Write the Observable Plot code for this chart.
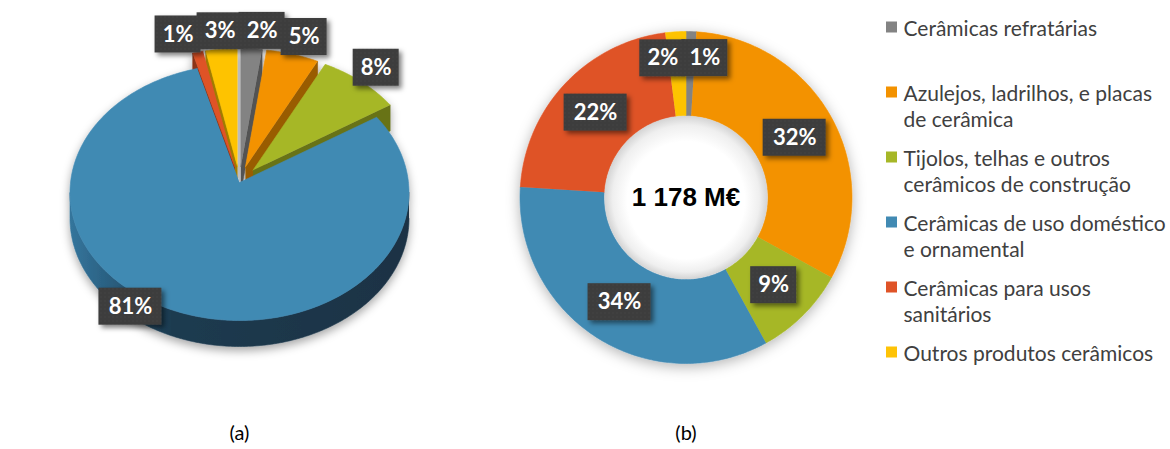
<!DOCTYPE html>
<html><head><meta charset="utf-8">
<script src="https://cdn.jsdelivr.net/npm/d3@7"></script>
<script src="https://cdn.jsdelivr.net/npm/@observablehq/plot@0.6"></script>
<style>body{margin:0;background:#fff}</style>
</head><body><div id="chart"></div>
<script>
// ---------- data ----------
const categories = [
  "Cerâmicas refratárias",
  "Azulejos, ladrilhos, e placas de cerâmica",
  "Tijolos, telhas e outros cerâmicos de construção",
  "Cerâmicas de uso doméstico e ornamental",
  "Cerâmicas para usos sanitários",
  "Outros produtos cerâmicos"
];
const legendLabels = [
  "Cerâmicas refratárias",
  "Azulejos, ladrilhos, e placas\nde cerâmica",
  "Tijolos, telhas e outros\ncerâmicos de construção",
  "Cerâmicas de uso doméstico\ne ornamental",
  "Cerâmicas para usos\nsanitários",
  "Outros produtos cerâmicos"
];
const sharesA = [2, 5, 8, 81, 1, 3];
const sharesB = [1, 32, 9, 34, 22, 2];
const totalB = "1 178 M€";
const panelLabels = ["(a)", "(b)"];
const palette = ["#838383", "#F39200", "#A6B727", "#418AB3", "#DF5327", "#FEC306"];

// ---------- layout ----------
const W = 1170, H = 449;
const A = {cx: 239, cy: 192, rx: 169.5, ry: 128, apexDy: -10, depth: 26, explode: 0.125};
const B = {cx: 685.5, cy: 197, R: 166, r: 82};
const legend = {x: 886, sq: 11, y0: 27, step: 65, textX: 903, font: 21, lh: 26};
const panelY = 433;

function angles(shares) {
  const tot = d3.sum(shares); let acc = 0;
  return shares.map((v, i) => {
    const a0 = acc / tot * 2 * Math.PI; acc += v;
    const a1 = acc / tot * 2 * Math.PI;
    return {i, v, a0, a1, mid: (a0 + a1) / 2};
  });
}
function arcSteps(a0, a1) { const n = Math.max(2, Math.ceil((a1 - a0) / (Math.PI / 180))); return d3.range(n + 1).map(k => a0 + (a1 - a0) * k / n); }

// ---------- pie (a) polygons ----------
const slicesA = angles(sharesA);
const maxA = d3.max(sharesA);
const polysA = [];
const offA = s => s.v === maxA ? [0, 0] : [A.explode * A.rx * Math.sin(s.mid), -A.explode * A.ry * Math.cos(s.mid)];
const rimA = (t, o, dz = 0) => [A.cx + o[0] + A.rx * Math.sin(t), A.cy + o[1] - A.ry * Math.cos(t) + dz];
const apexA = (o, dz = 0) => [A.cx + o[0], A.cy + A.apexDy + o[1] + dz];
const order = [...slicesA].sort((p, q) => Math.cos(q.mid) - Math.cos(p.mid));
for (const s of order) {
  const o = offA(s), c = palette[s.i], dark = d3.color(c).darker(1.3).formatHex();
  if (s.a1 > 0 && s.a1 < Math.PI) polysA.push({fill: dark, pts: [apexA(o), rimA(s.a1, o), rimA(s.a1, o, A.depth), apexA(o, A.depth)]});
  if (s.a0 > Math.PI && s.a0 < 2 * Math.PI) polysA.push({fill: dark, pts: [apexA(o), rimA(s.a0, o), rimA(s.a0, o, A.depth), apexA(o, A.depth)]});
  const lo = Math.max(s.a0, Math.PI / 2), hi = Math.min(s.a1, 3 * Math.PI / 2);
  if (hi > lo) {
    const st = arcSteps(lo, hi);
    polysA.push({fill: s.v === maxA ? "url(#blueSide)" : dark, pts: [...st.map(t => rimA(t, o)), ...st.reverse().map(t => rimA(t, o, A.depth))]});
  }
  polysA.push({fill: c, pts: [apexA(o), ...arcSteps(s.a0, s.a1).map(t => rimA(t, o))]});
}
const rowsA = polysA.flatMap((p, k) => p.pts.map(([x, y]) => ({id: k, x, y, fill: p.fill})));

// ---------- donut (b) polygons ----------
const slicesB = angles(sharesB);
const rowsB = slicesB.flatMap(s => {
  const st = arcSteps(s.a0, s.a1);
  const outer = st.map(t => [B.cx + B.R * Math.sin(t), B.cy - B.R * Math.cos(t)]);
  const inner = [...st].reverse().map(t => [B.cx + B.r * Math.sin(t), B.cy - B.r * Math.cos(t)]);
  return [...outer, ...inner].map(([x, y]) => ({id: s.i, x, y, fill: palette[s.i]}));
});

// ---------- labels ----------
const halfW = t => 6 + 8.5 * t.length;
const boxH = 37;
function dodge(labels) {
  for (let it = 0; it < 200; it++) {
    let moved = false;
    for (let a = 0; a < labels.length; a++) for (let b = a + 1; b < labels.length; b++) {
      const p = labels[a], q = labels[b];
      const gap = halfW(p.text) + halfW(q.text) - 4;
      if (Math.abs(p.y - q.y) < boxH - 4 && Math.abs(p.x - q.x) < gap) {
        const push = (gap - Math.abs(p.x - q.x)) / 2 + 0.01, sgn = p.x <= q.x ? -1 : 1;
        p.x += sgn * push; q.x -= sgn * push; moved = true;
      }
    }
    if (!moved) break;
  }
  return labels;
}
const labelsA = dodge(slicesA.map(s => {
  const text = `${s.v}%`;
  if (s.v === maxA) {
    const t = s.mid + 16 * Math.PI / 180;
    return {text, x: A.cx + 1.1 * A.rx * Math.sin(t), y: A.cy - 1.1 * A.ry * Math.cos(t)};
  }
  const o = offA(s);
  return {text, x: A.cx + o[0] + 1.14 * A.rx * Math.sin(s.mid), y: A.cy + o[1] - 1.14 * A.ry * Math.cos(s.mid)};
}));
const labelsB = dodge(slicesB.map(s => {
  const rr = s.v < 3 ? 0.84 * B.R : (B.R + B.r) / 2;
  return {text: `${s.v}%`, x: B.cx + rr * Math.sin(s.mid), y: B.cy - rr * Math.cos(s.mid)};
}));
const labels = [...labelsA, ...labelsB];

const legendRows = categories.map((c, i) => ({
  cat: c, label: legendLabels[i], color: palette[i],
  y: legend.y0 + legend.step * i,
  lines: legendLabels[i].split("\n").length
}));

const chart = Plot.plot({
  width: W, height: H, margin: 0,
  x: {domain: [0, W], range: [0, W], axis: null},
  y: {domain: [0, H], range: [0, H], axis: null},
  color: {type: "identity"},
  style: {background: "#fff", fontFamily: "Lato"},
  marks: [
    Plot.line(rowsA, {x: "x", y: "y", z: "id", fill: "fill", stroke: "fill", strokeWidth: 0.6, ariaDescription: "pieA"}),
    Plot.line(rowsB, {x: "x", y: "y", z: "id", fill: "fill", stroke: "fill", strokeWidth: 0.6, ariaDescription: "donut"}),
    Plot.dot([B], {x: "cx", y: "cy", r: B.r - 0.5, fill: "url(#holeGrad)", stroke: "none"}),
    Plot.text([totalB], {x: () => B.cx, y: () => B.cy, text: d => d, fontSize: 26, fontWeight: "bold", fontFamily: "Liberation Sans", fill: "#000"}),
    Plot.rect(labels, {x1: d => d.x - halfW(d.text), x2: d => d.x + halfW(d.text), y1: d => d.y - boxH / 2, y2: d => d.y + boxH / 2, fill: "url(#dots)", ariaDescription: "boxes"}),
    Plot.text(labels, {x: "x", y: "y", text: "text", fill: "#fff", fontWeight: "bold", fontSize: 22, fontFamily: "Lato"}),
    Plot.rect(legendRows, {x1: legend.x, x2: legend.x + legend.sq, y1: d => d.y - legend.sq / 2, y2: d => d.y + legend.sq / 2, fill: "color"}),
    Plot.text(legendRows, {x: legend.textX, y: d => d.y + (d.lines - 1) * legend.lh / 2, text: "label", textAnchor: "start", lineHeight: legend.lh / legend.font, fontSize: legend.font, fill: "#404040", fontFamily: "Lato"}),
    Plot.text(panelLabels, {x: (d, i) => i === 0 ? A.cx : B.cx, y: panelY, text: d => d, fontSize: 20, fill: "#000", fontFamily: "Lato"})
  ]
});

const svg = d3.select(chart);
const defs = svg.insert("defs", ":first-child");
const lg = defs.append("linearGradient").attr("id", "blueSide").attr("x1", 0).attr("x2", 1).attr("y1", 0).attr("y2", 0);
[[0, "#34759c"], [0.12, "#2a5f80"], [0.3, "#1d3b50"], [1, "#1a3244"]].forEach(([o, c]) => lg.append("stop").attr("offset", o).attr("stop-color", c));
const rg = defs.append("radialGradient").attr("id", "holeGrad").attr("cx", 0.5).attr("cy", 0.5).attr("r", 0.5).attr("fx", 0.5).attr("fy", 0.56);
[[0, "#ffffff"], [0.72, "#ffffff"], [0.9, "#efefef"], [1, "#d4d4d4"]].forEach(([o, c]) => rg.append("stop").attr("offset", o).attr("stop-color", c));
const pat = defs.append("pattern").attr("id", "dots").attr("width", 4).attr("height", 4).attr("patternUnits", "userSpaceOnUse");
pat.append("rect").attr("width", 4).attr("height", 4).attr("fill", "#3d3d3d");
pat.append("circle").attr("cx", 1).attr("cy", 1).attr("r", 0.6).attr("fill", "#4c4c4c");
function shadow(id, dx, dy, sd, op) {
  defs.append("filter").attr("id", id).attr("x", "-20%").attr("y", "-20%").attr("width", "140%").attr("height", "140%")
    .append("feDropShadow").attr("dx", dx).attr("dy", dy).attr("stdDeviation", sd).attr("flood-color", "#000").attr("flood-opacity", op);
}
shadow("shA", 0, 4, 5, 0.35);
shadow("shB", 0, 3, 7, 0.3);
shadow("shBox", 3, 3, 2.5, 0.5);
svg.select('g[aria-description="pieA"]').attr("filter", "url(#shA)");
svg.select('g[aria-description="donut"]').attr("filter", "url(#shB)");
svg.select('g[aria-description="boxes"]').attr("filter", "url(#shBox)");
document.getElementById("chart").appendChild(chart);
</script>
</body></html>
